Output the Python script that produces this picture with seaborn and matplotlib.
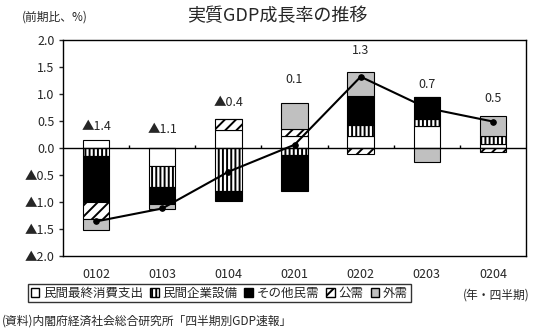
import numpy as np
import pandas as pd
import matplotlib
matplotlib.use("Agg")
import matplotlib.pyplot as plt
import seaborn as sns
from matplotlib.patches import Patch

# Quarterly contributions to real GDP growth (percentage points)
quarters = ["0102", "0103", "0104", "0201", "0202", "0203", "0204"]
consumption = [0.15, -0.33, 0.33, 0.23, 0.23, 0.41, 0.08]
investment = [-0.15, -0.40, -0.80, -0.13, 0.20, 0.13, 0.15]
other_private = [-0.85, -0.31, -0.18, -0.66, 0.53, 0.40, 0.0]
public = [-0.31, 0.0, 0.20, 0.12, -0.12, 0.0, -0.07]
external = [-0.20, -0.09, 0.0, 0.48, 0.44, -0.25, 0.36]
gdp_growth = [-1.36, -1.12, -0.44, 0.06, 1.32, 0.74, 0.49]

series_names = ["民間最終消費支出", "民間企業設備", "その他民需", "公需", "外需"]
y_ticks = [2.0, 1.5, 1.0, 0.5, 0.0, -0.5, -1.0, -1.5, -2.0]
y_tick_labels = ["2.0", "1.5", "1.0", "0.5", "0.0", "▲0.5", "▲1.0", "▲1.5", "▲2.0"]

# Vertical placement of the growth-rate labels above each bar
label_heights = [0.39, 0.35, 0.85, 1.27, 1.80, 1.18, 0.91]

sns.set_style("white")
plt.rcParams["font.family"] = ["Noto Sans CJK JP", "DejaVu Sans"]
plt.rcParams["hatch.linewidth"] = 1.4
plt.rcParams["hatch.color"] = "black"

W, H = 533, 331
fig = plt.figure(figsize=(W / 100, H / 100), dpi=100)
ax = fig.add_axes([63 / W, 1 - 256 / H, 463 / W, 216 / H])

styles = [
    dict(fc="white", hatch=None),
    dict(fc="white", hatch="||||"),
    dict(fc="black", hatch=None),
    dict(fc="white", hatch="///"),
    dict(fc="#c0c0c0", hatch=None),
]
components = [consumption, investment, other_private, public, external]

x = np.arange(len(quarters))
pos_base = np.zeros(len(x))
neg_base = np.zeros(len(x))
for vals, st in zip(components, styles):
    v = np.array(vals, dtype=float)
    bottoms = np.where(v >= 0, pos_base, neg_base)
    ax.bar(x, v, bottom=bottoms, width=0.4, color=st["fc"], edgecolor="black",
           hatch=st["hatch"], linewidth=0.8, zorder=2)
    pos_base += np.clip(v, 0, None)
    neg_base += np.clip(v, None, 0)

df = pd.DataFrame({"quarter": x, "growth": gdp_growth})
sns.lineplot(data=df, x="quarter", y="growth", ax=ax, color="black", linewidth=1.5,
             marker="o", markersize=4, markeredgecolor="black", zorder=5)


def fmt(v):
    return ("▲" if v < 0 else "") + f"{abs(v):.1f}"


for xi, v, h in zip(x, gdp_growth, label_heights):
    ax.text(xi, h, fmt(v), ha="center", va="center", fontsize=9)

ax.axhline(0, color="black", lw=1, zorder=3)
ax.vlines(x[:-1] + 0.5, 0, 0.06, color="black", lw=1, zorder=3)

ax.set_xlim(-0.5, 6.5)
ax.set_ylim(-2, 2)
ax.set_xticks(x, quarters)
ax.set_yticks(y_ticks, y_tick_labels)
ax.tick_params(axis="x", length=0, pad=9, labelsize=9)
ax.tick_params(axis="y", length=3, width=1, direction="out", pad=3, labelsize=9, left=True)
ax.set_xlabel("")
ax.set_ylabel("")
for sp in ax.spines.values():
    sp.set_color("black")
    sp.set_linewidth(1)

handles = [Patch(facecolor=st["fc"], edgecolor="black", hatch=st["hatch"], label=n)
           for st, n in zip(styles, series_names)]
leg = fig.legend(handles=handles, loc="center left", bbox_to_anchor=(28 / W, 1 - 293 / H),
                 ncol=5, frameon=True, fancybox=False, edgecolor="black", fontsize=9,
                 handlelength=0.7, handleheight=0.7, handletextpad=0.3,
                 columnspacing=0.55, borderpad=0.2, borderaxespad=0)
leg.get_frame().set_linewidth(1)

fig.text(277 / W, 1 - 16 / H, "実質GDP成長率の推移", ha="center", va="center", fontsize=13)
fig.text(22 / W, 1 - 17 / H, "(前期比、%)", ha="left", va="center", fontsize=8.5)
fig.text(463 / W, 1 - 295 / H, "(年・四半期)", ha="left", va="center", fontsize=8.5)
fig.text(2 / W, 1 - 321 / H, "(資料)内閣府経済社会総合研究所「四半期別GDP速報」",
         ha="left", va="center", fontsize=8.5)

fig.savefig("out.png", dpi=100, facecolor="white")
